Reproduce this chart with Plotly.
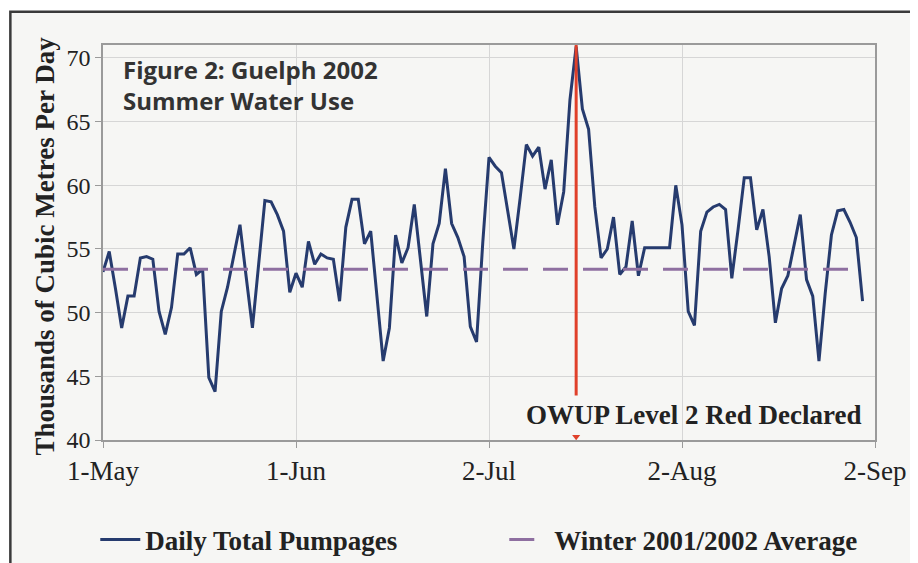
import pandas as pd
import plotly.graph_objects as go

# ---- data ----
start_date = "2002-05-01"
daily_pumpage = [
    53.2, 54.8, 51.9, 48.8, 51.3, 51.3, 54.3, 54.4, 54.2, 50.1,
    48.3, 50.4, 54.6, 54.6, 55.1, 53.0, 53.4, 44.9, 43.8, 50.1,
    52.0, 54.4, 56.9, 52.8, 48.8, 53.8, 58.8, 58.7, 57.7, 56.4,
    51.6, 53.1, 52.0, 55.6, 53.8, 54.6, 54.3, 54.2, 50.9, 56.7,
    58.9, 58.9, 55.4, 56.4, 51.5, 46.2, 48.8, 56.1, 53.9, 55.1,
    58.5, 54.0, 49.7, 55.4, 57.0, 61.3, 57.0, 55.9, 54.4, 48.9,
    47.7, 55.5, 62.2, 61.5, 61.0, 58.0, 55.0, 59.0, 63.2, 62.3,
    63.0, 59.7, 62.0, 56.9, 59.5, 66.7, 70.9, 66.0, 64.4, 58.3,
    54.3, 55.0, 57.5, 53.0, 53.6, 57.2, 52.9, 55.1, 55.1, 55.1,
    55.1, 55.1, 60.0, 56.9, 50.1, 49.0, 56.4, 57.9, 58.3, 58.5,
    58.1, 52.7, 56.5, 60.6, 60.6, 56.5, 58.1, 54.4, 49.2, 51.9,
    52.9, 55.2, 57.7, 52.6, 51.3, 46.2, 51.5, 56.1, 58.0, 58.1,
    57.1, 55.9, 50.9,
]
dates = pd.date_range(start_date, periods=len(daily_pumpage), freq="D")
winter_average = 53.4
declared_date = "2002-07-16"

tick_dates = ["2002-05-01", "2002-06-01", "2002-07-02", "2002-08-02", "2002-09-02"]
tick_labels = ["1-May", "1-Jun", "2-Jul", "2-Aug", "2-Sep"]
y_ticks = [40, 45, 50, 55, 60, 65, 70]

series_names = ["Daily Total Pumpages", "Winter 2001/2002 Average"]
title_lines = ["Figure 2: Guelph 2002", "Summer Water Use"]
y_title = "Thousands of Cubic Metres Per Day"
event_label = "OWUP Level 2 Red Declared"

# ---- figure ----
fig = go.Figure()

fig.add_trace(go.Scatter(
    x=dates, y=daily_pumpage, mode="lines",
    name="<b>" + series_names[0] + "</b>",
    line=dict(color="#263B6E", width=3),
))
fig.add_trace(go.Scatter(
    x=[dates[0], dates[-1]], y=[winter_average, winter_average], mode="lines",
    name="<b>" + series_names[1] + "</b>",
    line=dict(color="#8E6FA0", width=3, dash="25px,15px"),
))
fig.add_trace(go.Scatter(
    x=[declared_date], y=[40.25], mode="markers", showlegend=False,
    marker=dict(symbol="triangle-down", size=7, color="#E0402A"),
    cliponaxis=False, hoverinfo="skip",
))

fig.add_shape(type="line", xref="x", yref="y",
              x0=declared_date, x1=declared_date, y0=43.5, y1=71.02,
              line=dict(color="#E0402A", width=3))

# outer frame
fig.add_shape(type="rect", xref="paper", yref="paper",
              x0=-0.120, x1=1.050, y0=-0.45, y1=1.084,
              line=dict(color="#3a3a3a", width=2.5),
              fillcolor="#f6f6f4", layer="below")

fig.add_annotation(
    text="<b>" + "<br>".join(title_lines) + "</b>",
    xref="paper", yref="paper", x=0.023, y=0.985,
    xanchor="left", yanchor="top", align="left", showarrow=False,
    font=dict(family="Open Sans", size=24, color="#333333"),
)
fig.add_annotation(
    text="<b>" + event_label + "</b>",
    xref="paper", yref="paper", x=0.765, y=0.063,
    xanchor="center", yanchor="middle", showarrow=False,
    font=dict(family="Liberation Serif", size=27, color="#222222"),
)
fig.add_annotation(
    text="<b>" + y_title + "</b>",
    xref="paper", yref="paper", x=-0.075, y=0.49,
    xanchor="center", yanchor="middle", textangle=-90, showarrow=False,
    font=dict(family="Liberation Serif", size=27, color="#222222"),
)

fig.update_xaxes(
    type="date", range=["2002-05-01", "2002-09-02"],
    tickvals=tick_dates, ticktext=tick_labels,
    showgrid=True, gridcolor="#d6d6d6", gridwidth=1,
    ticks="outside", ticklen=6, tickcolor="#9a9a9a",
    showline=True, linecolor="#9a9a9a", linewidth=1.5, mirror=True,
    tickfont=dict(family="Liberation Serif", size=27, color="#222222"),
    zeroline=False, automargin=False,
)
fig.update_yaxes(
    range=[40, 71.02], tickvals=y_ticks,
    showgrid=True, gridcolor="#d6d6d6", gridwidth=1,
    ticks="outside", ticklen=6, tickcolor="#9a9a9a",
    showline=True, linecolor="#9a9a9a", linewidth=1.5, mirror=True,
    tickfont=dict(family="Liberation Serif", size=24, color="#222222"),
    zeroline=False, automargin=False,
)

# page body has an 8px margin, so the figure is sized 8px smaller
fig.update_layout(
    width=910, height=555,
    margin=dict(l=95, r=43, t=37, b=123, autoexpand=False),
    paper_bgcolor="#ffffff", plot_bgcolor="#fdfdfc",
    showlegend=True,
    legend=dict(
        orientation="h", x=-0.01, xanchor="left", y=-0.253, yanchor="middle",
        font=dict(family="Liberation Serif", size=27, color="#222222"),
        bgcolor="rgba(0,0,0,0)", entrywidth=354, entrywidthmode="pixels",
        itemwidth=40,
    ),
)

fig.write_html("out.html")
